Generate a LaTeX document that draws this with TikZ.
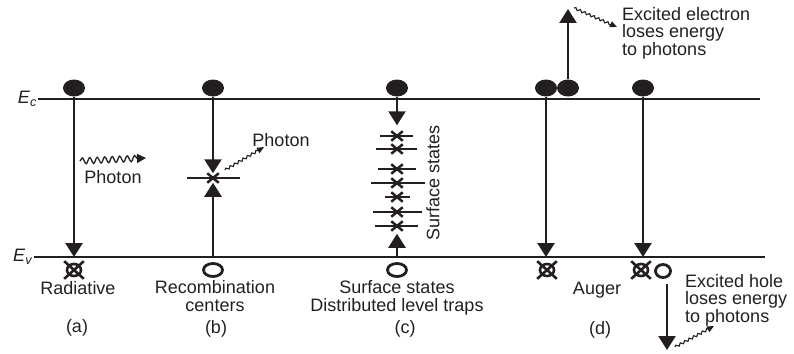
\documentclass[tikz,border=0pt]{standalone}
\usepackage{fontspec}
\setmainfont{Liberation Sans}
\usetikzlibrary{arrows.meta,shapes.geometric,shapes.misc,decorations.pathmorphing}
\definecolor{ink}{HTML}{231F20}
\begin{document}
\begin{tikzpicture}[x=1pt,y=-1pt,
  every node/.style={font=\fontsize{18}{17.5}\selectfont, text=ink, inner sep=0pt},
  band/.style={line width=2.8pt, draw=ink},
  electron/.style={ellipse, fill=ink, minimum width=22pt, minimum height=17pt},
  hole/.style={ellipse, draw=ink, line width=2.8pt, minimum width=15pt, minimum height=13pt},
  wide hole/.style={hole, minimum width=19pt, minimum height=13pt},
  xmark/.style={cross out, draw=ink, line width=2.6pt, minimum width=17pt, minimum height=15pt},
  xring/.style={ellipse, draw=ink, line width=2.6pt, minimum width=14pt, minimum height=12pt},
  trap/.style={cross out, draw=ink, line width=2.5pt, minimum width=9pt, minimum height=7pt},
  trapline/.style={line width=2.5pt, draw=ink},
  transition/.style={line width=2.5pt, draw=ink, -{Triangle[width=17pt,length=14pt]}},
  wave/.style={draw=ink, line width=1.3pt, decorate,
    decoration={snake, amplitude=3pt, segment length=7.5pt, post length=7pt},
    -{Triangle[width=9pt,length=9pt]}},
  wiggle/.style={draw=ink, line width=1.1pt, decorate,
    decoration={snake, amplitude=1.2pt, segment length=5pt, post length=5pt},
    -{Triangle[width=6pt,length=7pt]}},
  label/.style={align=center}
]
\useasboundingbox (0,0) rectangle (794,353);

% band edges
\coordinate (ecl) at (38,99);
\coordinate (ecr) at (760,99);
\coordinate (evl) at (34,257);
\coordinate (evr) at (765,257);
\draw[band] (ecl) -- (ecr);
\draw[band] (evl) -- (evr);
\node[anchor=east] (eclab) at ([xshift=-1pt]ecl) {\textit{E}\textsubscript{\textit{c}}};
\node[anchor=east] (evlab) at ([xshift=-1pt]evl) {\textit{E}\textsubscript{\textit{v}}};

% (a) radiative
\node[electron] (ea) at (74,88) {};
\draw[transition] (ea) -- (ea |- evl);
\node[xmark] (xa) at (74,270) {};
\node[xring] (xra) at (xa) {};
\coordinate (pa1) at (80,161);
\coordinate (pa2) at (146,158);
\draw[wave] (pa1) -- (pa2);
\node (phota) at (113,177) {Photon};
\node[label] (rada) at (78,288) {Radiative};
\node (capa) at (77,328) {(a)};

% (b) recombination centre
\node[electron] (eb) at (213,88) {};
\node[trap] (tb) at (213,178) {};
\draw[trapline] ([xshift=-26pt]tb.center) -- ([xshift=27pt]tb.center);
\node[wide hole] (hb) at (213,270) {};
\draw[transition] (eb) -- (tb.north);
\draw[transition] (hb |- evl) -- (tb.south);
\coordinate (pb1) at (225,170);
\coordinate (pb2) at (264,147);
\draw[wiggle] (pb1) -- (pb2);
\node (photb) at (281,140) {Photon};
\node[label] (recb) at (215,296) {Recombination\\centers};
\node (capb) at (216,329) {(b)};

% (c) surface states
\node[electron] (ec) at (397,88) {};
\node[trap] (t1) at (397,136) {};
\node[trap] (t2) at (397,149) {};
\node[trap] (t3) at (397,169) {};
\node[trap] (t4) at (397,183) {};
\node[trap] (t5) at (397,197) {};
\node[trap] (t6) at (397,212) {};
\node[trap] (t7) at (397,226) {};
\draw[trapline] ([xshift=-17pt]t1.center) -- ([xshift=16pt]t1.center);
\draw[trapline] ([xshift=-21pt]t2.center) -- ([xshift=20pt]t2.center);
\draw[trapline] ([xshift=-19pt]t3.center) -- ([xshift=19pt]t3.center);
\draw[trapline] ([xshift=-26pt]t4.center) -- ([xshift=28pt]t4.center);
\draw[trapline] ([xshift=-12pt]t5.center) -- ([xshift=13pt]t5.center);
\draw[trapline] ([xshift=-24pt]t6.center) -- ([xshift=25pt]t6.center);
\draw[trapline] ([xshift=-22pt]t7.center) -- ([xshift=21pt]t7.center);
\node[wide hole] (hc) at (397,270) {};
\draw[transition] (ec) -- ([yshift=6pt]t1.north);
\draw[transition] (hc |- evl) -- ([yshift=-3pt]t7.south);
\node[rotate=90] (ssc) at (433,183) {Surface states};
\node[label] (surfc) at (397,298) {Surface states\\Distributed level traps};
\node (capc) at (405,329) {(c)};

% (d) Auger
\node[electron] (ed1) at (546,88) {};
\node[electron] (ed2) at (568,88) {};
\node[electron] (ed3) at (643,88) {};
\coordinate (exc) at (568,9);
\draw[transition] (ed2) -- (exc);
\coordinate (pd1) at (574,8);
\coordinate (pd2) at (617,27);
\draw[wiggle] (pd1) -- (pd2);
\node[align=left, anchor=west] (exe) at (622,33) {Excited electron\\loses energy\\to photons};
\draw[transition] (ed1) -- (ed1 |- evl);
\draw[transition] (ed3) -- (ed3 |- evl);
\node[xmark] (xd1) at (547,270) {};
\node[xring] (xrd1) at (xd1) {};
\node[xmark] (xd2) at (641,270) {};
\node[xring] (xrd2) at (xd2) {};
\node[hole] (hd) at (663,271) {};
\coordinate (hd1) at (667,284);
\coordinate (hd2) at (667,350);
\draw[transition] (hd1) -- (hd2);
\coordinate (ph1) at (675,347);
\coordinate (ph2) at (714,326);
\draw[wiggle] (ph1) -- (ph2);
\node[align=left, anchor=west] (exh) at (685,300) {Excited hole\\loses energy\\to photons};
\node (augd) at (597,290) {Auger};
\node (capd) at (600,330) {(d)};
\end{tikzpicture}
\end{document}
